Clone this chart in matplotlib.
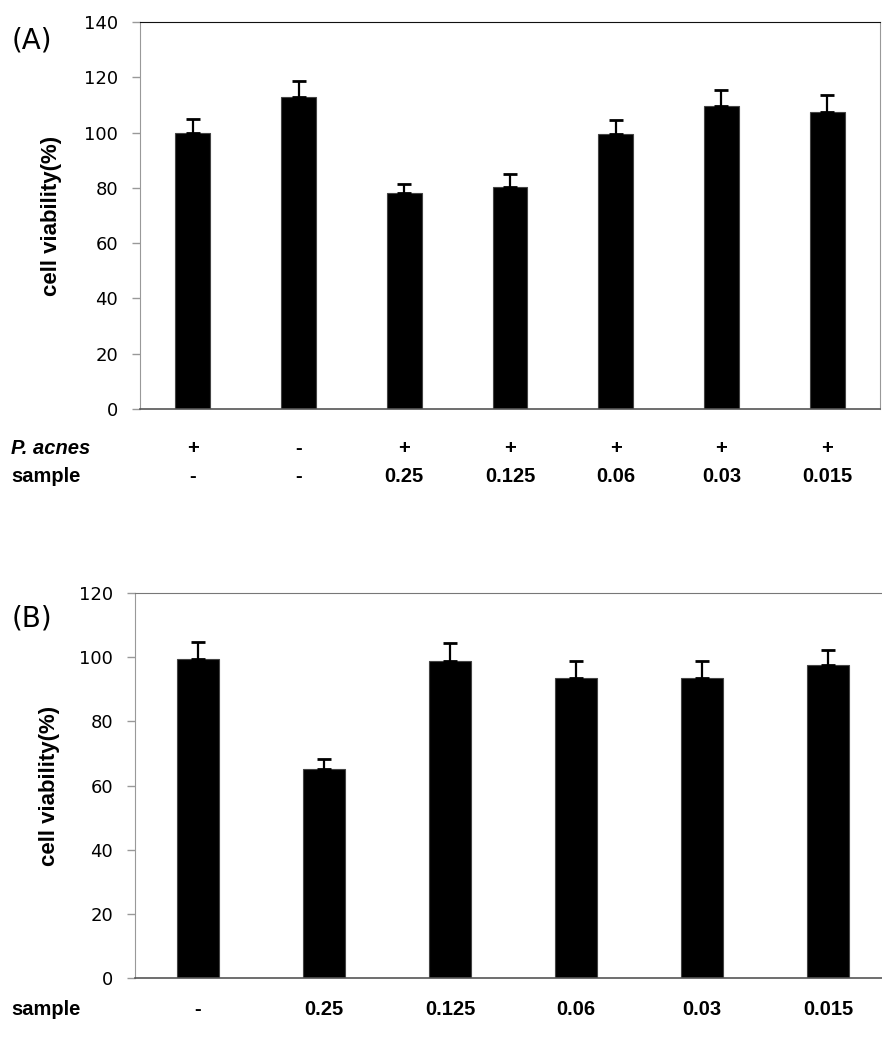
import matplotlib
matplotlib.use('Agg')
import matplotlib.pyplot as plt
import matplotlib.transforms as mtransforms

# panel A data
acnes_a = ['+', '-', '+', '+', '+', '+', '+']
sample_a = ['-', '-', '0.25', '0.125', '0.06', '0.03', '0.015']
viability_a = [100, 113, 78, 80.5, 99.5, 109.5, 107.5]
err_a = [5, 5.5, 3.5, 4.5, 5, 6, 6]

# panel B data
sample_b = ['-', '0.25', '0.125', '0.06', '0.03', '0.015']
viability_b = [99.5, 65, 99, 93.5, 93.5, 97.5]
err_b = [5.2, 3.4, 5.6, 5.4, 5.4, 4.9]

lab_font = ['Liberation Sans', 'DejaVu Sans']
label_size = 14.5

fig = plt.figure(figsize=(8.82, 10.4), dpi=100)


def style_axes(ax, ymax, top_color):
    ax.set_ylim(0, ymax)
    ax.set_yticks(range(0, ymax + 1, 20))
    ax.tick_params(axis='y', direction='out', length=5.8, width=1, color='#999999',
                   labelsize=13, pad=10)
    ax.tick_params(axis='x', length=0, labelbottom=False)
    ax.spines['left'].set_color('#999999')
    ax.spines['right'].set_color('#999999')
    ax.spines['bottom'].set_color('#555555')
    ax.spines['bottom'].set_linewidth(1.2)
    ax.spines['top'].set_color(top_color)
    ax.set_ylabel('cell viability(%)', family=lab_font, fontweight='bold', fontsize=16)


# (A)
ax1 = fig.add_axes([0.1587, 0.6067, 0.8390, 0.3721])
x_a = range(len(viability_a))
ax1.bar(x_a, viability_a, width=0.33, color='black', edgecolor='#444444', linewidth=0.8)
ax1.errorbar(x_a, viability_a, yerr=[[0] * len(err_a), err_a], fmt='none',
             ecolor='black', elinewidth=1.6, capsize=5, capthick=2)
ax1.set_xlim(-0.5, len(viability_a) - 0.5)
style_axes(ax1, 140, '#111111')
ax1.yaxis.set_label_coords(-78 / 740, 0.5)

trans_a = mtransforms.blended_transform_factory(ax1.transData, fig.transFigure)
for i in x_a:
    ax1.text(i, 0.569, acnes_a[i], transform=trans_a, ha='center', va='center',
             family=lab_font, fontweight='bold', fontsize=label_size)
    ax1.text(i, 0.542, sample_a[i], transform=trans_a, ha='center', va='center',
             family=lab_font, fontweight='bold', fontsize=label_size)
fig.text(0.013, 0.569, 'P. acnes', ha='left', va='center', family=lab_font,
         fontweight='bold', fontstyle='italic', fontsize=label_size)
fig.text(0.013, 0.542, 'sample', ha='left', va='center', family=lab_font,
         fontweight='bold', fontsize=label_size)
fig.text(0.013, 0.961, '(A)', ha='left', va='center', fontsize=20)

# (B)
ax2 = fig.add_axes([0.1531, 0.0599, 0.8571, 0.3696])
x_b = range(len(viability_b))
ax2.bar(x_b, viability_b, width=0.33, color='black', edgecolor='#444444', linewidth=0.8)
ax2.errorbar(x_b, viability_b, yerr=[[0] * len(err_b), err_b], fmt='none',
             ecolor='black', elinewidth=1.6, capsize=5, capthick=2)
ax2.set_xlim(-0.5, len(viability_b) - 0.5)
style_axes(ax2, 120, '#777777')
ax2.yaxis.set_label_coords(-75 / 756, 0.5)

trans_b = mtransforms.blended_transform_factory(ax2.transData, fig.transFigure)
for i in x_b:
    ax2.text(i, 0.029, sample_b[i], transform=trans_b, ha='center', va='center',
             family=lab_font, fontweight='bold', fontsize=label_size)
fig.text(0.013, 0.029, 'sample', ha='left', va='center', family=lab_font,
         fontweight='bold', fontsize=label_size)
fig.text(0.013, 0.405, '(B)', ha='left', va='center', fontsize=20)

fig.savefig('out.png', dpi=100)
